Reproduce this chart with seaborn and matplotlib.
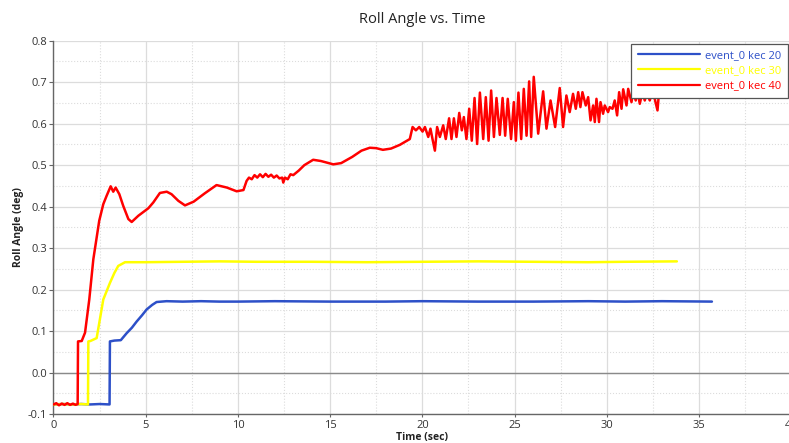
import matplotlib
matplotlib.use("Agg")
import matplotlib.pyplot as plt
import seaborn as sns
import pandas as pd
from matplotlib.ticker import MultipleLocator

# ---- data ----
t_kec20 = [0.0, 0.5, 1.0, 1.5, 2.0, 2.5, 3.04, 3.06, 3.3, 3.65, 3.97, 4.25, 4.51, 4.8, 5.05, 5.35, 5.59, 6.13,
           7.0, 8.0, 9.0, 10.0, 12.0, 15.0, 18.0, 20.0, 23.0, 26.0, 29.0, 31.0, 33.0, 35.7]
v_kec20 = [-0.077, -0.076, -0.077, -0.076, -0.077, -0.076, -0.077, 0.075, 0.077, 0.078, 0.095, 0.108, 0.123, 0.138,
           0.152, 0.163, 0.170, 0.172, 0.171, 0.172, 0.171, 0.171, 0.172, 0.171, 0.171, 0.172, 0.171, 0.171, 0.172,
           0.171, 0.172, 0.171]

t_kec30 = [0.0, 0.5, 1.0, 1.5, 1.87, 1.89, 2.0, 2.34, 2.7, 3.06, 3.3, 3.51, 3.88, 5.0, 7.0, 9.0, 11.0, 14.0,
           17.0, 20.0, 23.0, 26.0, 29.0, 31.0, 33.8]
v_kec30 = [-0.077, -0.076, -0.077, -0.076, -0.077, 0.075, 0.076, 0.083, 0.176, 0.216, 0.240, 0.257, 0.266, 0.266,
           0.267, 0.268, 0.267, 0.267, 0.266, 0.267, 0.268, 0.267, 0.266, 0.267, 0.268]

t_kec40 = [0.0, 0.15, 0.3, 0.45, 0.6, 0.75, 0.9, 1.05, 1.2, 1.31, 1.33, 1.53, 1.71, 1.94, 2.16, 2.48, 2.70, 2.88,
           3.10, 3.24, 3.37, 3.57, 3.78, 4.06, 4.24, 4.60, 4.87, 5.14, 5.41, 5.77, 6.14, 6.40, 6.77, 7.13, 7.6,
           8.2, 8.84, 9.4, 9.93, 10.3, 10.47, 10.6, 10.75, 10.9, 11.05, 11.2, 11.35, 11.5, 11.65, 11.8, 11.95,
           12.1, 12.25, 12.4, 12.46, 12.55, 12.7, 12.85, 13.0, 13.3, 13.6, 14.08, 14.5, 15.17, 15.6, 16.2, 16.7,
           17.15, 17.5, 17.86, 18.3, 18.78, 19.32, 19.47, 19.65, 19.83, 20.01, 20.14, 20.32, 20.44, 20.55, 20.68,
           20.80, 20.95, 21.13, 21.27, 21.45, 21.58, 21.71, 21.85, 22.00, 22.14, 22.25, 22.39, 22.54, 22.68,
           22.83, 22.97, 23.12, 23.30, 23.44, 23.59, 23.73, 23.88, 24.02, 24.20, 24.35, 24.49, 24.63, 24.81,
           24.96, 25.07, 25.21, 25.36, 25.50, 25.65, 25.79, 25.90, 26.04, 26.28, 26.55, 26.73, 26.95, 27.20,
           27.45, 27.63, 27.81, 27.99, 28.17, 28.32, 28.45, 28.57, 28.68, 28.86, 28.99, 29.12, 29.26, 29.35,
           29.44, 29.58, 29.66, 29.80, 29.89, 30.07, 30.16, 30.31, 30.43, 30.56, 30.67, 30.80, 30.89, 31.07,
           31.16, 31.34, 31.43, 31.57, 31.64, 31.79, 31.93, 32.06, 32.18, 32.33, 32.48, 32.60, 32.75, 32.84, 32.91]
v_kec40 = [-0.077, -0.074, -0.079, -0.075, -0.078, -0.074, -0.078, -0.075, -0.078, -0.076, 0.075, 0.076, 0.096,
           0.176, 0.273, 0.366, 0.406, 0.426, 0.449, 0.436, 0.446, 0.430, 0.402, 0.370, 0.363, 0.378, 0.387, 0.396,
           0.410, 0.433, 0.436, 0.430, 0.414, 0.403, 0.412, 0.432, 0.452, 0.446, 0.437, 0.440, 0.462, 0.470, 0.466,
           0.476, 0.470, 0.478, 0.471, 0.479, 0.472, 0.477, 0.470, 0.475, 0.468, 0.470, 0.458, 0.470, 0.466, 0.478,
           0.476, 0.487, 0.500, 0.513, 0.510, 0.502, 0.505, 0.520, 0.535, 0.542, 0.541, 0.537, 0.540, 0.549, 0.563,
           0.592, 0.584, 0.592, 0.581, 0.592, 0.568, 0.588, 0.563, 0.535, 0.592, 0.568, 0.596, 0.563, 0.613, 0.563,
           0.613, 0.568, 0.626, 0.584, 0.616, 0.563, 0.636, 0.559, 0.662, 0.551, 0.675, 0.563, 0.664, 0.559, 0.680,
           0.568, 0.662, 0.573, 0.662, 0.571, 0.660, 0.563, 0.652, 0.559, 0.675, 0.563, 0.684, 0.571, 0.702, 0.568,
           0.713, 0.576, 0.678, 0.588, 0.656, 0.592, 0.686, 0.592, 0.668, 0.628, 0.672, 0.636, 0.676, 0.640, 0.676,
           0.644, 0.664, 0.608, 0.644, 0.604, 0.660, 0.604, 0.652, 0.624, 0.644, 0.628, 0.640, 0.636, 0.656, 0.620,
           0.676, 0.636, 0.683, 0.644, 0.684, 0.652, 0.676, 0.656, 0.683, 0.648, 0.676, 0.656, 0.676, 0.656, 0.680,
           0.660, 0.632, 0.680, 0.668]

series_labels = ["event_0 kec 20", "event_0 kec 30", "event_0 kec 40"]
series_colors = ["#2d50c8", "#ffff00", "#ff0000"]

x_ticks = [0, 5, 10, 15, 20, 25, 30, 35, 40]
y_ticks = [-0.1, 0.0, 0.1, 0.2, 0.3, 0.4, 0.5, 0.6, 0.7, 0.8]

# ---- plotting ----
sns.set_theme(style="white")
plt.rcParams["font.family"] = ["Open Sans", "DejaVu Sans"]

fig = plt.figure(figsize=(7.89, 4.43), dpi=100)
ax = fig.add_axes([0.0678, 0.0655, 0.935, 0.8425])

frames = []
for t, v, lab in zip([t_kec20, t_kec30, t_kec40], [v_kec20, v_kec30, v_kec40], series_labels):
    frames.append(pd.DataFrame({"Time": t, "Roll": v, "series": lab}))
df = pd.concat(frames, ignore_index=True)

for lab, col in zip(series_labels, series_colors):
    sub = df[df["series"] == lab]
    sns.lineplot(data=sub, x="Time", y="Roll", ax=ax, color=col, label=lab,
                 estimator=None, sort=False, linewidth=1.8, zorder=3)

ax.set_xlim(0, 40)
ax.set_ylim(-0.1, 0.8)
ax.set_xticks(x_ticks)
ax.set_yticks(y_ticks)
ax.set_xticklabels([str(x) for x in x_ticks])
ax.set_yticklabels([f"{y:.1f}" for y in y_ticks])
ax.xaxis.set_minor_locator(MultipleLocator(2.5))
ax.yaxis.set_minor_locator(MultipleLocator(0.05))

ax.grid(which="major", color="#dcdcdc", linewidth=0.9, linestyle="-", zorder=0)
ax.grid(which="minor", color="#dcdcdc", linewidth=0.8, linestyle=":", zorder=0)
ax.axhline(0.0, color="#8a8a8a", linewidth=1.0, zorder=1)

for side in ["top", "right"]:
    ax.spines[side].set_visible(False)
for side in ["left", "bottom"]:
    ax.spines[side].set_color("#666666")
    ax.spines[side].set_linewidth(1.0)

ax.tick_params(axis="y", which="major", left=True, length=3, width=0.8, color="#666666",
               labelsize=8, labelcolor="#333333", pad=1.5)
ax.tick_params(axis="x", which="major", bottom=True, length=2, width=0.8, color="#666666",
               labelsize=8, labelcolor="#333333", pad=2)
ax.tick_params(which="minor", length=0)

ax.set_title("Roll Angle vs. Time", fontsize=10.5, color="#222222", pad=13)
ax.set_xlabel("Time (sec)", fontsize=7.5, fontweight="bold", color="#222222", labelpad=1)
ax.set_ylabel("Roll Angle (deg)", fontsize=7.5, fontweight="bold", color="#222222", labelpad=3)

leg = ax.legend(loc="upper right", bbox_to_anchor=(0.999, 1.0), fontsize=8, frameon=True,
                fancybox=False, edgecolor="#555555", framealpha=1.0, handlelength=5.6,
                handletextpad=0.5, borderpad=0.55, labelspacing=0.4, labelcolor="linecolor",
                borderaxespad=0.25)
leg.get_frame().set_linewidth(0.9)
for line in leg.get_lines():
    line.set_linewidth(1.6)

fig.savefig("out.png", dpi=100)
